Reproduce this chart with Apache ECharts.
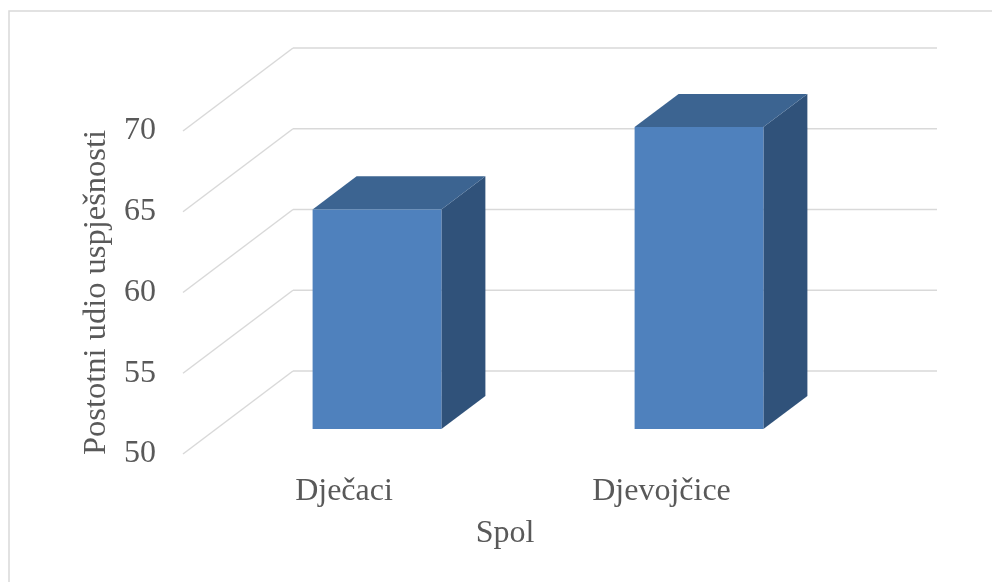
<!DOCTYPE html>
<html>
<head>
<meta charset="utf-8">
<script src="https://cdn.jsdelivr.net/npm/echarts@6/dist/echarts.min.js"></script>
<style>
html,body{margin:0;padding:0;background:#fff;}
#chart{width:992px;height:582px;}
</style>
</head>
<body>
<div id="chart"></div>
<script>
const categories = ['Dječaci', 'Djevojčice'];
const values = [63.6, 68.7];
const yTicks = [50, 55, 60, 65, 70];
const yAxisTitle = 'Postotni udio uspješnosti';
const xAxisTitle = 'Spol';

const DX = 110, DY = 83;          // depth offset of the back wall (px)
const F1 = 0.30, F2 = 0.70;       // bar front/back depth fractions
const FONT = 'Liberation Serif';
const TXT = '#595959';
const GRIDC = '#d9d9d9';

const chart = echarts.init(document.getElementById('chart'), null, {renderer: 'canvas'});

const option = {
  backgroundColor: '#ffffff',
  animation: false,
  graphic: [{
    type: 'rect', silent: true,
    shape: {x: 9, y: 11, width: 1000, height: 600},
    style: {fill: 'none', stroke: GRIDC, lineWidth: 1.5}
  }],
  grid: {left: 183, right: 165, top: 131, bottom: 128},
  xAxis: {
    type: 'category',
    data: categories,
    axisLine: {show: false}, axisTick: {show: false}, splitLine: {show: false},
    axisLabel: {
      margin: 22, color: TXT, fontFamily: FONT, fontSize: 32,
      formatter: function (v, i) { return i === 1 ? '{b|' + v + '}' : '{a|' + v + '}'; },
      rich: {
        a: {color: TXT, fontFamily: FONT, fontSize: 32},
        b: {color: TXT, fontFamily: FONT, fontSize: 32, padding: [0, 9, 0, 0]}
      }
    },
    name: xAxisTitle, nameLocation: 'middle', nameGap: 64,
    nameTextStyle: {color: TXT, fontFamily: FONT, fontSize: 32}
  },
  yAxis: {
    type: 'value', min: yTicks[0], max: yTicks[yTicks.length - 1], interval: 5,
    axisLine: {show: false}, axisTick: {show: false}, splitLine: {show: false},
    axisLabel: {margin: 27, color: TXT, fontFamily: FONT, fontSize: 32},
    name: yAxisTitle, nameLocation: 'middle', nameGap: 67,
    nameTextStyle: {color: TXT, fontFamily: FONT, fontSize: 32.5}
  },
  series: [
    {
      type: 'custom', name: 'walls', clip: false, z: 1,
      data: yTicks.map(v => [0, v]),
      encode: {x: 0, y: 1},
      renderItem: function (params, api) {
        const cs = params.coordSys;
        const y = api.coord([0, api.value(1)])[1];
        const x0 = cs.x;
        const st = {stroke: GRIDC, lineWidth: 1.5, fill: null};
        return {
          type: 'group', silent: true,
          children: [
            {type: 'line', shape: {x1: x0, y1: y, x2: x0 + DX, y2: y - DY}, style: st},
            {type: 'line', shape: {x1: x0 + DX, y1: y - DY, x2: x0 + DX + cs.width, y2: y - DY}, style: st}
          ]
        };
      }
    },
    {
      type: 'custom', name: 'bars', clip: false, z: 2,
      data: values.map((v, i) => [i, v]),
      encode: {x: 0, y: 1},
      renderItem: function (params, api) {
        const i = api.value(0), v = api.value(1);
        const top = api.coord([i, v]);
        const base = api.coord([i, yTicks[0]]);
        const bw = api.size([1, 0])[0] * 0.4;
        const fx = DX * F1, fy = DY * F1;
        const dx = DX * (F2 - F1), dy = DY * (F2 - F1);
        const xl = top[0] - bw / 2 + fx, xr = top[0] + bw / 2 + fx;
        const yt = top[1] - fy, yb = base[1] - fy;
        return {
          type: 'group',
          children: [
            {type: 'polygon', shape: {points: [[xr, yt], [xr + dx, yt - dy], [xr + dx, yb - dy], [xr, yb]]},
             style: {fill: '#30527a'}},
            {type: 'polygon', shape: {points: [[xl, yt], [xl + dx, yt - dy], [xr + dx, yt - dy], [xr, yt]]},
             style: {fill: '#3c6491'}},
            {type: 'rect', shape: {x: xl, y: yt, width: xr - xl, height: yb - yt},
             style: {fill: '#4f81bd'}}
          ]
        };
      }
    }
  ]
};
chart.setOption(option);
</script>
</body>
</html>
